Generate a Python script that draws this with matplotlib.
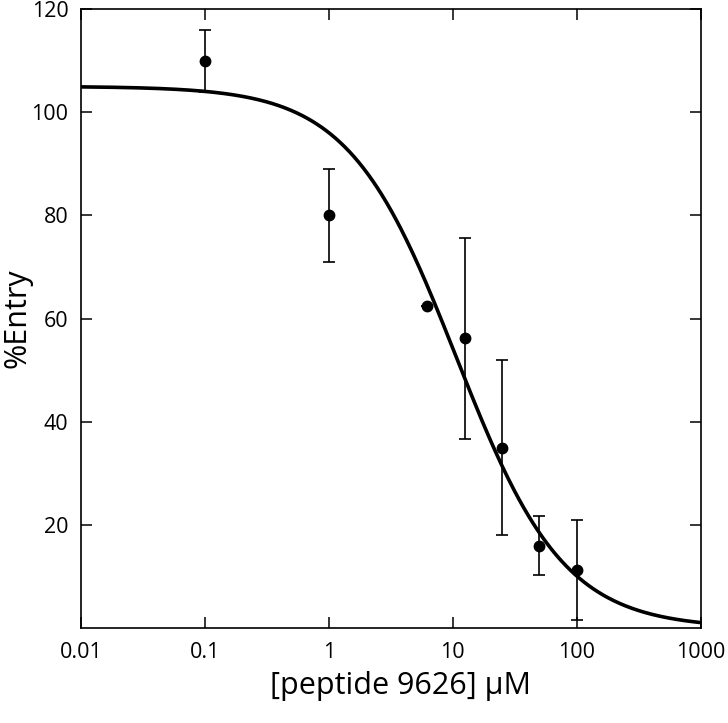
import numpy as np
import matplotlib
matplotlib.use('Agg')
import matplotlib.pyplot as plt

# measured points (mean +/- error)
conc = [0.1, 1, 6.25, 12.5, 25, 50, 100]
entry = [110.0, 80.0, 62.5, 56.2, 35.0, 16.0, 11.3]
err = [6.0, 9.0, 0.0, 19.5, 17.0, 5.7, 9.7]

# dose-response fit (4-parameter logistic)
fit_top = 105.0
fit_bottom = 0.0
fit_ic50 = 10.7
fit_hill = 1.0

xticks = [0.01, 0.1, 1, 10, 100, 1000]
xticklabels = ['0.01', '0.1', '1', '10', '100', '1000']
yticks = [20, 40, 60, 80, 100, 120]

plt.rcParams['font.family'] = ['Open Sans', 'DejaVu Sans']

fig = plt.figure(figsize=(7.28, 7.23), dpi=100)
ax = fig.add_axes([0.1113, 0.131, 0.851, 0.8566])

xs = np.logspace(-2, 3, 400)
ys = fit_bottom + (fit_top - fit_bottom) / (1 + (xs / fit_ic50) ** fit_hill)
ax.plot(xs, ys, color='black', lw=2.6, zorder=2)

ax.errorbar(conc, entry, yerr=err, fmt='o', color='black', ms=7.5,
            elinewidth=1.2, capsize=4, capthick=1.2, zorder=3)

ax.set_xscale('log')
ax.set_xlim(0.01, 1000)
ax.set_ylim(0, 120)
ax.set_xticks(xticks)
ax.set_xticklabels(xticklabels)
ax.xaxis.set_minor_locator(matplotlib.ticker.NullLocator())
ax.set_yticks(yticks)

ax.tick_params(direction='in', length=8, width=1.1, labelsize=15.5,
               top=True, right=True)
ax.tick_params(axis='x', pad=10)
ax.tick_params(axis='y', pad=9)
for s in ax.spines.values():
    s.set_linewidth(1.2)

fig.text(400 / 728, (723 - 694) / 723, '[peptide 9626] \u03bcM',
         fontsize=22, ha='center', va='baseline')
fig.text(17 / 728, (723 - 318) / 723, '%Entry', fontsize=22,
         rotation=90, ha='center', va='center')

fig.savefig('out.png', dpi=100)
